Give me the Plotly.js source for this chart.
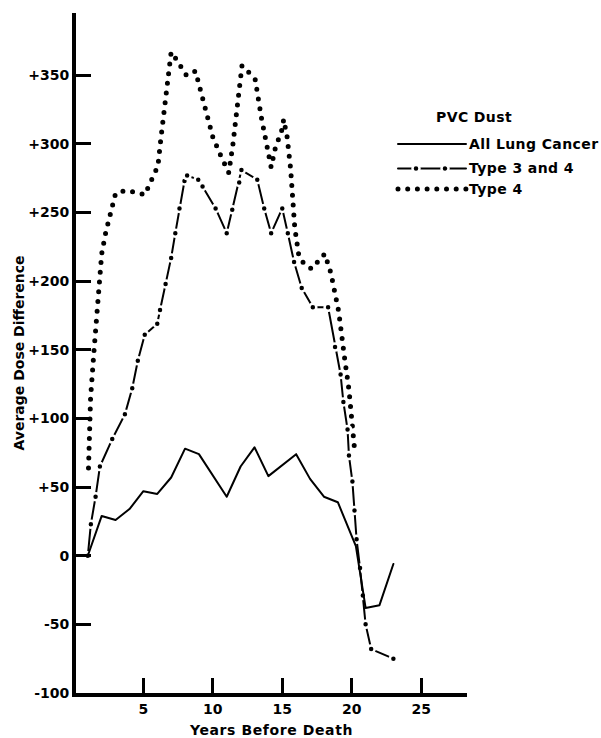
<!DOCTYPE html>
<html>
<head>
<meta charset="utf-8">
<script src="https://cdn.plot.ly/plotly-3.0.1.min.js"></script>
<style>
  html, body { margin: 0; padding: 0; background: #fff; }
  #chart { width: 601px; height: 738px; }
  .scatterlayer .js-line, .shapelayer path { stroke-linecap: round; stroke-linejoin: round; }
  .xtitle { letter-spacing: 0.6px; }
  .annotation-text { letter-spacing: 0.4px; }
</style>
</head>
<body>
<div id="chart"></div>
<script>
// ---- Data ----
// All Lung Cancer (solid line)
const yearsAll = [1, 2, 3, 4, 5, 6, 7, 8, 9, 11, 12, 13, 14, 16, 17, 18, 19, 20.3, 21, 22, 23];
const doseAll  = [0, 29, 26, 34, 47, 45, 57, 78, 74, 43, 65, 79, 58, 74, 56, 43, 39, 7, -38, -36, -6];

// Type 3 and 4 (dash-dot line; points where the dots sit)
const years34 = [1, 1.22, 1.56, 1.87, 2.76, 3.67, 4.2, 4.6, 5.1, 6.0, 6.2, 6.6, 7.0, 7.3, 7.6, 7.96, 8.15, 8.95, 9.26,
                 10.2, 11.0, 11.4, 11.9, 12.06, 13.2, 13.7, 14.2, 15.0, 15.4, 15.85, 16.4, 17.2, 18.3, 18.8, 19.2,
                 19.4, 19.7, 19.8, 20.05, 20.2, 20.35, 20.6, 20.8, 21.0, 21.4, 23.0];
const dose34  = [0, 23, 43, 65, 85, 103, 122, 142, 161, 169, 179, 198, 217, 235, 253, 273, 277, 274, 269,
                 253, 235, 252, 272, 281, 274, 253, 235, 253, 235, 214, 195, 181, 181, 152, 132,
                 112, 92, 73, 54, 33, 12, -9, -29, -50, -68, -75];

// Type 4 (dotted line)
const years4 = [1.05, 1.2, 1.45, 1.7, 2.0, 2.3, 2.65, 3.0, 3.7, 4.4, 5.1, 5.7, 6.05, 6.25, 6.55, 6.85, 7.0, 7.35,
                8.1, 8.75, 9.3, 10.0, 10.55, 11.15, 11.45, 11.95, 12.1, 12.6, 13.05, 13.5, 14.05, 14.2, 14.5,
                15.0, 15.1, 15.35, 15.6, 15.9, 16.2, 16.55, 17.1, 18.06, 18.5, 19.06, 19.5, 19.8, 20.2];
const dose4  = [64, 115, 150, 187, 220, 236, 250, 264, 266, 265, 263, 276, 284, 303, 332, 360, 367, 362,
                350, 353, 333, 305, 292, 279, 300, 343, 357, 352, 347, 319, 289, 283, 297,
                311, 318, 305, 282, 239, 218, 213, 209, 220, 206, 178, 143, 121, 78];

// Axis ticks
const xTickVals = [5, 10, 15, 20, 25];
const xTickText = ['5', '10', '15', '20', '25'];
const yTickVals = [-100, -50, 0, 50, 100, 150, 200, 250, 300, 350];
const yTickText = ['-100', '-50', '0', '+50', '+100', '+150', '+200', '+250', '+300', '+350'];

// Legend
const legendTitle = 'PVC Dust';
const seriesNames = ['All Lung Cancer', 'Type 3 and 4', 'Type 4'];

// ---- Drawing ----
const FONT = { family: 'DejaVu Sans, Liberation Sans, Arial, sans-serif', size: 14, color: '#000', weight: 'bold' };

const traces = [
  {
    x: years4, y: dose4, name: seriesNames[2], type: 'scatter', mode: 'lines',
    line: { color: '#000', width: 5, dash: '0px,9.8px' }, showlegend: false, hoverinfo: 'skip'
  },
  {
    x: years34, y: dose34, name: seriesNames[1], type: 'scatter', mode: 'lines+markers',
    line: { color: '#000', width: 2 },
    marker: { color: '#000', size: 7, line: { color: '#fff', width: 2.5 } },
    showlegend: false, hoverinfo: 'skip'
  },
  {
    x: yearsAll, y: doseAll, name: seriesNames[0], type: 'scatter', mode: 'lines',
    line: { color: '#000', width: 2 }, showlegend: false, hoverinfo: 'skip'
  }
];

// plot area in pixels (for placing the hand-drawn legend)
const W = 601, H = 738;
const M = { l: 76, r: 134, t: 13, b: 45 };
const pw = W - M.l - M.r, ph = H - M.t - M.b;
const px = v => (v - M.l) / pw;
const py = v => (H - M.b - v) / ph;

const legL = 398, legR = 466, textX = 467;
const legY = [144, 168.5, 189];

const shapes = [
  { type: 'line', xref: 'paper', yref: 'paper', x0: px(legL), x1: px(legR), y0: py(legY[0]), y1: py(legY[0]),
    line: { color: '#000', width: 2 } },
  { type: 'line', xref: 'paper', yref: 'paper', x0: px(legL), x1: px(legR), y0: py(legY[1]), y1: py(legY[1]),
    line: { color: '#000', width: 2 } },
  { type: 'line', xref: 'paper', yref: 'paper', x0: px(legL), x1: px(legR), y0: py(legY[2]), y1: py(legY[2]),
    line: { color: '#000', width: 5, dash: '0px,9.7px' } }
];
[416, 445].forEach(cx => {
  shapes.push({ type: 'circle', xref: 'paper', yref: 'paper',
    x0: px(cx - 3.5), x1: px(cx + 3.5), y0: py(legY[1] + 3.5), y1: py(legY[1] - 3.5),
    fillcolor: '#000', line: { color: '#fff', width: 2.5 } });
});

const annotations = [
  { text: legendTitle, xref: 'paper', yref: 'paper', x: px(434), y: py(117), xanchor: 'left', yanchor: 'middle',
    showarrow: false, font: FONT },
  ...seriesNames.map((n, i) => ({
    text: n, xref: 'paper', yref: 'paper', x: px(textX), y: py(legY[i]), xanchor: 'left', yanchor: 'middle',
    showarrow: false, font: FONT
  }))
];

const axisCommon = {
  showline: true, linecolor: '#000', linewidth: 4,
  ticks: 'inside', ticklen: 15, tickwidth: 3, tickcolor: '#000',
  showgrid: false, zeroline: false, tickfont: FONT, fixedrange: true
};

const layout = {
  width: W, height: H,
  margin: M,
  paper_bgcolor: '#fff', plot_bgcolor: '#fff',
  showlegend: false,
  xaxis: Object.assign({}, axisCommon, {
    range: [0.15, 28.3], tickmode: 'array', tickvals: xTickVals, ticktext: xTickText,
    title: { text: 'Years Before Death', font: FONT, standoff: 11 }
  }),
  yaxis: Object.assign({}, axisCommon, {
    range: [-100, 395.4], tickmode: 'array', tickvals: yTickVals, ticktext: yTickText,
    title: { text: 'Average Dose Difference', font: FONT, standoff: 1 }
  }),
  shapes: shapes,
  annotations: annotations
};

Plotly.newPlot('chart', traces, layout, { displayModeBar: false, staticPlot: true });
</script>
</body>
</html>
